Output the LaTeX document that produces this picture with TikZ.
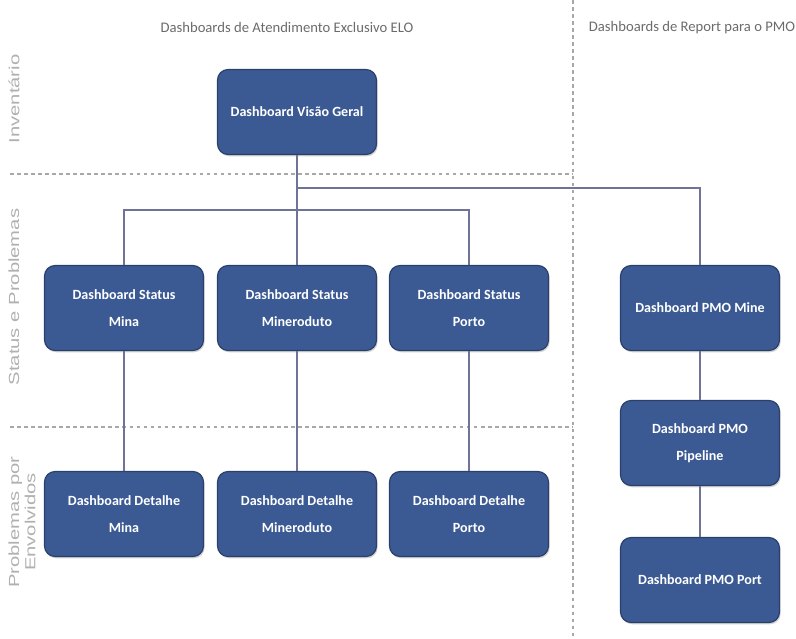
\documentclass[tikz,border=0pt]{standalone}
\usepackage{fontspec}
\setmainfont{Carlito}
\newfontfamily\sidefont[FakeStretch=1.38]{Liberation Sans}
\usetikzlibrary{shadows}
\definecolor{boxfill}{HTML}{3B5A93}
\definecolor{boxline}{HTML}{2A3F6A}
\definecolor{conn}{HTML}{6E7398}
\definecolor{divider}{HTML}{A8A8A8}
\definecolor{headtxt}{HTML}{6B6B6B}
\definecolor{sidetxt}{HTML}{B0B0B0}
\tikzset{
  dash box/.style={draw=boxline, fill=boxfill, rounded corners=9pt, line width=1pt,
    minimum width=159*0.03cm, minimum height=85*0.03cm, text=white,
    font=\bfseries\fontsize{12}{23}\selectfont, align=center, inner sep=2pt,
    drop shadow={shadow xshift=1pt, shadow yshift=-1.5pt, fill=black!35, opacity=0.5}},
  link/.style={draw=conn, line width=1pt},
  divline/.style={draw=divider, dashed, line width=0.9pt},
  header/.style={text=headtxt, font=\fontsize{12.5}{15}\selectfont},
  side/.style={text=sidetxt, font=\sidefont\fontsize{12.5}{14}\selectfont, rotate=90, align=center}
}
\begin{document}
\begin{tikzpicture}[x=0.03cm, y=-0.03cm]
\useasboundingbox (0,0) rectangle (796,638);
% dividers
\draw[divline] (573,0) -- (573,638);
\draw[divline] (10,174) -- (573,174);
\draw[divline] (10,427) -- (573,427);
% headers
\node[header] (h1) at (287,27) {Dashboards de Atendimento Exclusivo ELO};
\node[header] (h2) at (692,28) {Dashboards de Report para o PMO};
% side labels
\node[side] (s1) at (14,99) {Inventário};
\node[side] (s2) at (14,297) {Status e Problemas};
\node[side] (s3) at (22,522) {Problemas por\\Envolvidos};
% nodes
\node[dash box] (vg) at (297,112) {Dashboard Visão Geral};
\node[dash box] (sm) at (124,308) {Dashboard Status\\Mina};
\node[dash box] (smd) at (297,308) {Dashboard Status\\Mineroduto};
\node[dash box] (sp) at (469,308) {Dashboard Status\\Porto};
\node[dash box] (pm) at (700,308) {Dashboard PMO Mine};
\node[dash box] (pp) at (700,443) {Dashboard PMO\\Pipeline};
\node[dash box] (ppo) at (700,580) {Dashboard PMO Port};
\node[dash box] (dm) at (124,514) {Dashboard Detalhe\\Mina};
\node[dash box] (dmd) at (297,514) {Dashboard Detalhe\\Mineroduto};
\node[dash box] (dp) at (469,514) {Dashboard Detalhe\\Porto};
% connectors
\coordinate (bus) at (297,210);
\coordinate (pmobus) at (297,188);
\draw[link] (vg.south) -- (bus);
\draw[link] (pmobus) -| (pm.north);
\draw[link] (bus) -| (sm.north);
\draw[link] (bus) -- (smd.north);
\draw[link] (bus) -| (sp.north);
\draw[link] (sm) -- (dm);
\draw[link] (smd) -- (dmd);
\draw[link] (sp) -- (dp);
\draw[link] (pm) -- (pp);
\draw[link] (pp) -- (ppo);
\end{tikzpicture}
\end{document}
